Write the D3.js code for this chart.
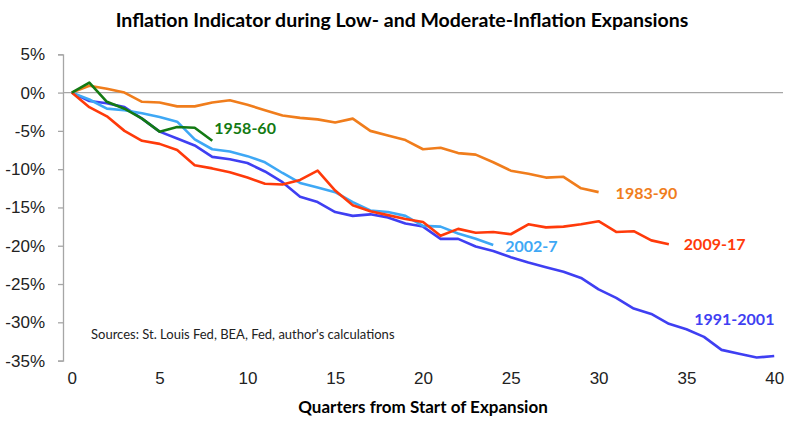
<!DOCTYPE html>
<html>
<head>
<meta charset="utf-8">
<script src="https://cdn.jsdelivr.net/npm/d3@7"></script>
<style>
  body { margin: 0; background: #fff; }
  svg { display: block; font-family: Lato, "Open Sans", sans-serif; }
  .tick text { fill: #222; }
</style>
</head>
<body>
<div id="chart"></div>
<script>
// Inflation indicator, cumulative % change by quarter since start of expansion

const xTicks = [0, 5, 10, 15, 20, 25, 30, 35, 40];
const yTicks = [5, 0, -5, -10, -15, -20, -25, -30, -35];

const s1958 = [0, 1.3, -1.2, -2.1, -3.4, -5.1, -4.5, -4.6, -6.3];
const s1983 = [0, 0.9, 0.5, 0, -1.2, -1.3, -1.8, -1.8, -1.3, -1.0, -1.6, -2.3, -3.0, -3.3, -3.5,
               -3.9, -3.4, -5.0, -5.6, -6.2, -7.4, -7.2, -7.9, -8.1, -9.1, -10.2, -10.6, -11.1,
               -11.0, -12.5, -13.0];
const s1991 = [0, -1.1, -1.4, -1.9, -3.4, -5.1, -6.0, -6.9, -8.4, -8.7, -9.2, -10.3, -11.7, -13.6,
               -14.3, -15.6, -16.1, -15.9, -16.3, -17.1, -17.5, -19.1, -19.1, -20.1, -20.7, -21.5,
               -22.2, -22.8, -23.4, -24.2, -25.7, -26.8, -28.2, -28.9, -30.2, -30.9, -31.9, -33.6,
               -34.1, -34.6, -34.4];
const s2002 = [0, -0.9, -2.1, -2.3, -2.7, -3.2, -3.8, -6.1, -7.4, -7.7, -8.3, -9.1, -10.5, -11.8,
               -12.4, -13.0, -14.3, -15.4, -15.6, -16.1, -17.4, -17.5, -18.4, -19.1, -19.9];
const s2009 = [0, -1.9, -3.1, -5.0, -6.3, -6.7, -7.5, -9.5, -9.9, -10.4, -11.1, -11.9, -12.0, -11.4,
               -10.2, -12.8, -14.7, -15.5, -16.0, -16.5, -16.9, -18.7, -17.8, -18.3, -18.2, -18.5,
               -17.2, -17.6, -17.5, -17.2, -16.8, -18.2, -18.1, -19.3, -19.8];

// drawing order, colours and label offsets (from the last point of each line)
const series = [
    { name: '1983-90',   values: s1983, color: '#f07d1c', dx: 17,  dy: 1 },
    { name: '1991-2001', values: s1991, color: '#3f3ff2', dx: -80, dy: -37 },
    { name: '2002-7',    values: s2002, color: '#3ea8f5', dx: 12,  dy: 1 },
    { name: '2009-17',   values: s2009, color: '#ff3a0a', dx: 15,  dy: 0 },
    { name: '1958-60',   values: s1958, color: '#137a13', dx: 2,   dy: -12 }
];

const W = 800, H = 431;
const plot = { left: 63, right: 783, top: 54.3, bottom: 360.6 };

const svg = d3.select('#chart').append('svg')
    .attr('width', W)
    .attr('height', H);

// category axis: 41 quarters, points sit in the middle of each band
const x = d3.scaleLinear()
    .domain([-0.5, 40.5])
    .range([plot.left, plot.right]);

const y = d3.scaleLinear()
    .domain([-35, 5])
    .range([plot.bottom, plot.top]);

// Title
svg.append('text')
    .attr('x', 402)
    .attr('y', 27)
    .attr('text-anchor', 'middle')
    .style('font-size', '19.5px')
    .style('font-weight', 'bold')
    .text('Inflation Indicator during Low- and Moderate-Inflation Expansions');

// Y axis
const yAxis = svg.append('g')
    .attr('transform', `translate(${plot.left},0)`)
    .call(d3.axisLeft(y).tickValues(yTicks).tickSize(5).tickPadding(13).tickFormat(d => d + '%'));
yAxis.select('.domain').attr('stroke', '#a6a6a6').attr('stroke-width', 1.3);
yAxis.selectAll('.tick line').attr('stroke', '#a6a6a6').attr('stroke-width', 1.3);
yAxis.selectAll('.tick text').style('font-size', '17px');

// horizontal axis line at 0%
svg.append('line')
    .attr('x1', plot.left)
    .attr('x2', plot.right)
    .attr('y1', y(0))
    .attr('y2', y(0))
    .attr('stroke', '#a6a6a6')
    .attr('stroke-width', 1.3);

// X tick labels (placed low, below the plot)
const xAxis = svg.append('g')
    .attr('transform', `translate(0,${plot.bottom})`)
    .call(d3.axisBottom(x).tickValues(xTicks).tickSize(0).tickPadding(11).tickFormat(d => d));
xAxis.select('.domain').remove();
xAxis.selectAll('.tick text').style('font-size', '17px');

svg.append('text')
    .attr('x', 423)
    .attr('y', 413)
    .attr('text-anchor', 'middle')
    .style('font-size', '17px')
    .style('font-weight', 'bold')
    .text('Quarters from Start of Expansion');

// Lines
const line = d3.line()
    .x((d, i) => x(i))
    .y(d => y(d));

series.forEach(s => {
    svg.append('path')
        .datum(s.values)
        .attr('fill', 'none')
        .attr('stroke', s.color)
        .attr('stroke-width', 2.6)
        .attr('stroke-linejoin', 'round')
        .attr('d', line);

    const last = s.values.length - 1;
    svg.append('text')
        .attr('x', x(last) + s.dx)
        .attr('y', y(s.values[last]) + s.dy)
        .attr('dy', '0.35em')
        .style('font-size', '16px')
        .style('font-weight', 'bold')
        .attr('fill', s.color)
        .text(s.name);
});

// Sources note
svg.append('text')
    .attr('x', 91)
    .attr('y', 339)
    .style('font-size', '13px')
    .attr('fill', '#222')
    .text("Sources: St. Louis Fed, BEA, Fed, author's calculations");
</script>
</body>
</html>
